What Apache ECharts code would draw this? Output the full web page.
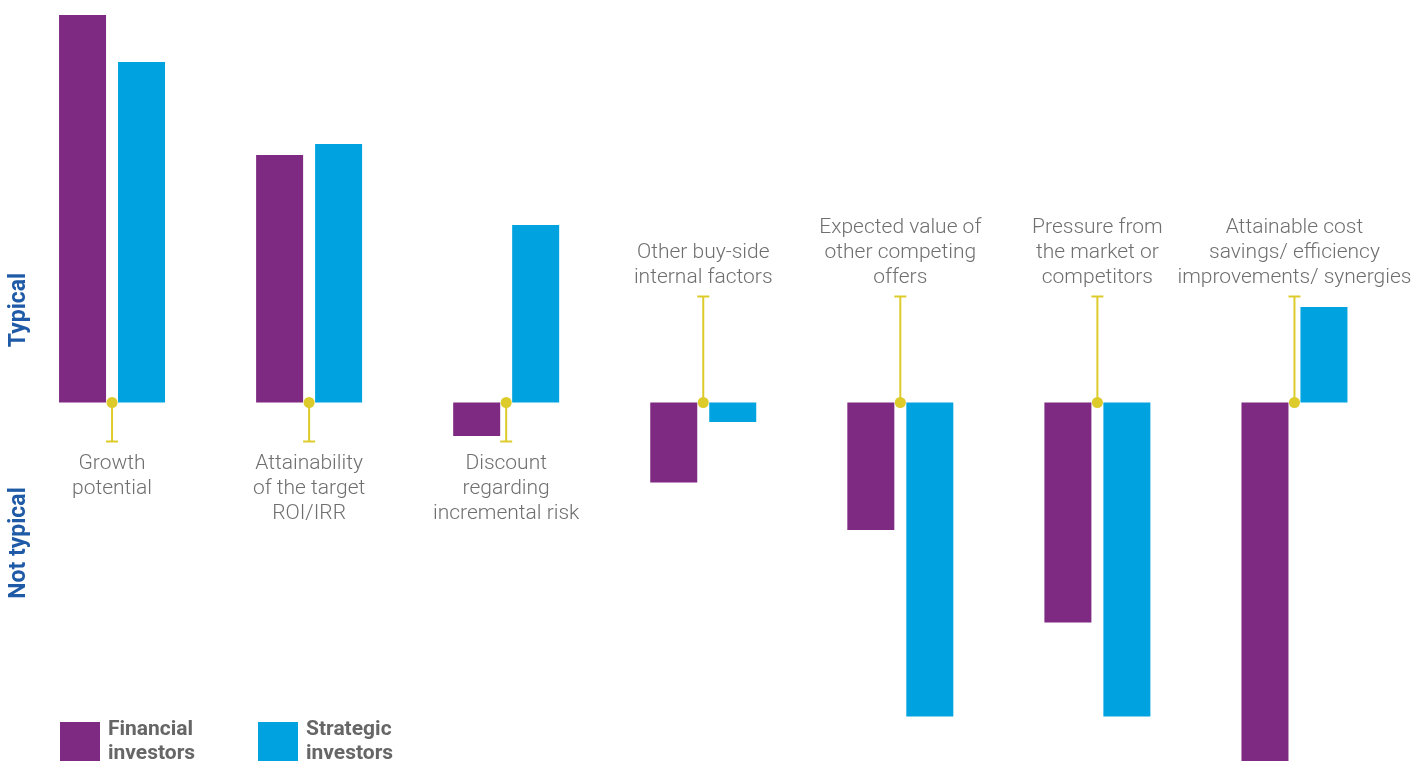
<!DOCTYPE html>
<html>
<head>
<meta charset="utf-8">
<title>Financial vs strategic investors</title>
<script src="https://cdn.jsdelivr.net/npm/echarts@6/dist/echarts.min.js"></script>
<style>
  html, body { margin: 0; padding: 0; background: #ffffff; }
  #chart { width: 1426px; height: 761px; }
</style>
</head>
<body>
<div id="chart"></div>
<script>
// Factors considered in valuation, typical (+) vs not typical (-)
const categories = [
  'Growth\npotential',
  'Attainability\nof the target\nROI/IRR',
  'Discount\nregarding\nincremental risk',
  'Other buy-side\ninternal factors',
  'Expected value of\nother competing\noffers',
  'Pressure from\nthe market or\ncompetitors',
  'Attainable cost\nsavings/ efficiency\nimprovements/ synergies'
];
const financialInvestors = [77.5, 49.5, -6.7, -16.0, -25.5, -44.0, -75.0];
const strategicInvestors = [68.1, 51.7, 35.5, -3.9, -62.8, -62.8, 19.1];
// where each category caption sits relative to the zero line
const labelSide = ['below', 'below', 'below', 'above', 'above', 'above', 'above'];
const seriesNames = ['Financial\ninvestors', 'Strategic\ninvestors'];
const sideLabels = ['Typical', 'Not typical'];

const PURPLE = '#7e2982';
const BLUE = '#00a3e0';
const YELLOW = '#dccb2a';
const GREY = '#6f6f6f';
const NAVY = '#1f5aa6';

const chart = echarts.init(document.getElementById('chart'), null, { renderer: 'canvas' });

function renderMarker(params, api) {
  const idx = api.value(0);
  const p = api.coord([idx, 0]);
  const down = labelSide[idx] === 'below';
  const len = down ? 39 : 106;
  const capY = down ? p[1] + len : p[1] - len;
  return {
    type: 'group',
    children: [
      { type: 'line', shape: { x1: p[0], y1: p[1], x2: p[0], y2: capY },
        style: { stroke: YELLOW, lineWidth: 2 } },
      { type: 'line', shape: { x1: p[0] - 6, y1: capY, x2: p[0] + 6, y2: capY },
        style: { stroke: YELLOW, lineWidth: 2 } },
      { type: 'circle', shape: { cx: p[0], cy: p[1], r: 5.5 },
        style: { fill: YELLOW } },
      { type: 'text',
        x: p[0], y: down ? capY + 10 : capY - 6,
        style: {
          text: categories[idx],
          fill: GREY,
          font: '300 21px Roboto, "Open Sans", sans-serif',
          lineHeight: 25,
          align: 'center',
          verticalAlign: down ? 'top' : 'bottom'
        } }
    ]
  };
}

chart.setOption({
  animation: false,
  backgroundColor: '#ffffff',
  grid: { left: 13.5, right: 33, top: 15, bottom: 0, containLabel: false },
  xAxis: {
    type: 'category',
    data: categories,
    show: false,
    boundaryGap: true
  },
  yAxis: {
    type: 'value',
    min: -71.7,
    max: 77.5,
    show: false
  },
  legend: {
    left: 60,
    top: 716,
    padding: 0,
    orient: 'horizontal',
    itemWidth: 40,
    itemHeight: 40,
    itemGap: 8,
    icon: 'rect',
    data: seriesNames,
    textStyle: {
      color: '#666666',
      fontFamily: 'Roboto, "Liberation Sans", sans-serif',
      fontWeight: 'bold',
      fontSize: 21,
      lineHeight: 24,
      width: 142,
      padding: [4, 0, 0, 3]
    }
  },
  graphic: [
    { type: 'text', x: 19, y: 310, rotation: Math.PI / 2,
      style: { text: sideLabels[0], fill: NAVY, font: 'bold 23px Roboto, "Liberation Sans", sans-serif',
        align: 'center', verticalAlign: 'middle' } },
    { type: 'text', x: 19, y: 543, rotation: Math.PI / 2,
      style: { text: sideLabels[1], fill: NAVY, font: 'bold 23px Roboto, "Liberation Sans", sans-serif',
        align: 'center', verticalAlign: 'middle' } }
  ],
  series: [
    {
      name: seriesNames[0],
      type: 'bar',
      data: financialInvestors,
      barWidth: 47,
      barGap: '25.5%',
      itemStyle: { color: PURPLE },
      clip: true
    },
    {
      name: seriesNames[1],
      type: 'bar',
      data: strategicInvestors,
      barWidth: 47,
      barGap: '25.5%',
      itemStyle: { color: BLUE },
      clip: true
    },
    {
      type: 'custom',
      coordinateSystem: 'cartesian2d',
      renderItem: renderMarker,
      data: categories.map((c, i) => [i, 0]),
      encode: { x: 0, y: 1 },
      z: 10,
      clip: false,
      silent: true
    }
  ]
});
</script>
</body>
</html>
